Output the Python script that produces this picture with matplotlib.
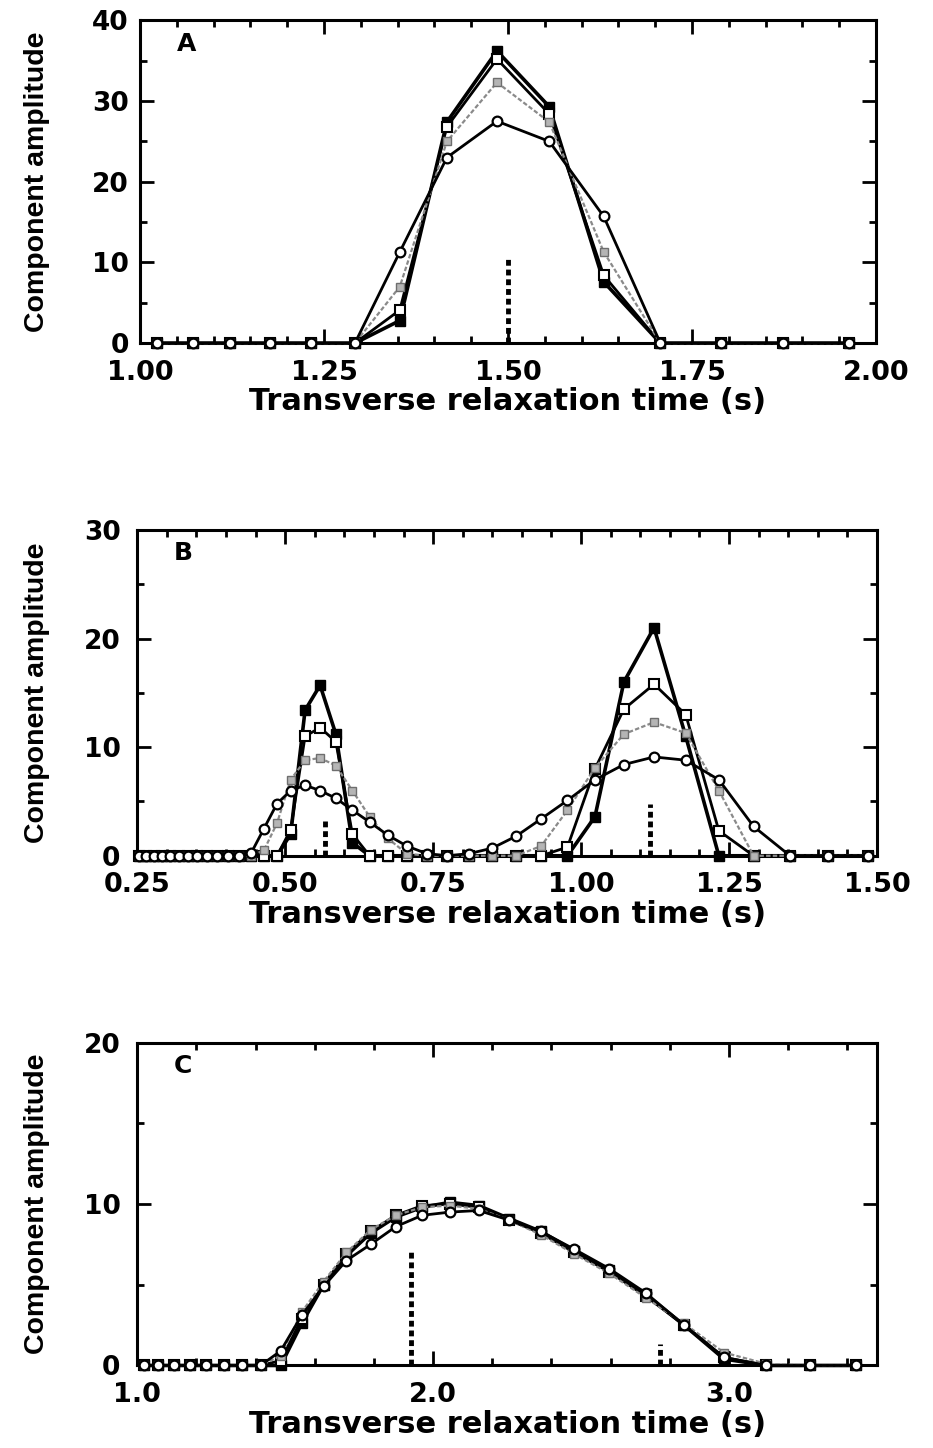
import matplotlib
matplotlib.use("Agg")
import matplotlib.pyplot as plt
from matplotlib.ticker import MultipleLocator

plt.rcParams['font.family'] = ['DejaVu Sans']
plt.rcParams['font.weight'] = 'bold'

# --- DATA ---
# relaxation time grid (s) for each panel
t_a = [1.023, 1.072, 1.123, 1.177, 1.233, 1.292, 1.353, 1.417, 1.485, 1.556,
       1.630, 1.707, 1.789, 1.874, 1.963]
t_b = [0.2535, 0.2656, 0.2783, 0.2915, 0.3054, 0.3199, 0.3352, 0.3511, 0.3678, 0.3854,
       0.4037, 0.4229, 0.4431, 0.4642, 0.4863, 0.5094, 0.5337, 0.5591, 0.5857, 0.6136,
       0.6428, 0.6734, 0.7055, 0.7391, 0.7743, 0.8111, 0.8498, 0.8902, 0.9326, 0.9770,
       1.0235, 1.0723, 1.1233, 1.1768, 1.2328, 1.2915, 1.3530, 1.4175, 1.4850]
t_c = [1.023, 1.072, 1.123, 1.177, 1.233, 1.292, 1.353, 1.417, 1.485, 1.556,
       1.630, 1.707, 1.789, 1.874, 1.963, 2.057, 2.154, 2.257, 2.364, 2.477,
       2.595, 2.718, 2.848, 2.983, 3.126, 3.274, 3.430]

# panel A
a_filled = [0, 0, 0, 0, 0, 0, 2.8, 27.4, 36.2, 29.3, 7.6, 0, 0, 0, 0]
a_open = [0, 0, 0, 0, 0, 0, 4.1, 26.8, 35.2, 28.4, 8.4, 0, 0, 0, 0]
a_hatch = [0, 0, 0, 0, 0, 0, 7.0, 25.0, 32.3, 27.4, 11.3, 0, 0, 0, 0]
a_circle = [0, 0, 0, 0, 0, 0, 11.3, 23.0, 27.5, 25.0, 15.7, 0, 0, 0, 0]

# panel B
b_filled = [0, 0, 0, 0, 0, 0, 0, 0, 0, 0,
            0, 0, 0, 0, 0, 2.0, 13.4, 15.7, 11.2, 1.2,
            0, 0, 0, 0, 0, 0, 0, 0, 0, 0,
            3.6, 16.0, 21.0, 11.0, 0, 0, 0, 0, 0]
b_open = [0, 0, 0, 0, 0, 0, 0, 0, 0, 0,
          0, 0, 0, 0, 0, 2.4, 11.0, 11.8, 10.5, 2.0,
          0, 0, 0, 0, 0, 0, 0, 0, 0, 0.8,
          8.0, 13.5, 15.8, 13.0, 2.3, 0, 0, 0, 0]
b_hatch = [0, 0, 0, 0, 0, 0, 0, 0, 0, 0,
           0, 0, 0, 0.5, 3.0, 7.0, 8.8, 9.0, 8.3, 6.0,
           3.6, 1.6, 0.2, 0, 0, 0, 0, 0, 0.9, 4.2,
           8.1, 11.2, 12.3, 11.3, 6.0, 0, 0, 0, 0]
b_circle = [0, 0, 0, 0, 0, 0, 0, 0, 0, 0,
            0, 0, 0.3, 2.5, 4.8, 6.0, 6.5, 6.0, 5.3, 4.2,
            3.1, 1.9, 0.9, 0.2, 0, 0.2, 0.7, 1.8, 3.4, 5.1,
            7.0, 8.4, 9.1, 8.8, 7.0, 2.7, 0, 0, 0]

# panel C
c_filled = [0, 0, 0, 0, 0, 0, 0, 0, 0, 2.6,
            5.0, 6.8, 8.2, 9.2, 9.8, 10.1, 9.9, 9.1, 8.3, 7.1,
            5.9, 4.4, 2.5, 0.4, 0, 0, 0]
c_open = [0, 0, 0, 0, 0, 0, 0, 0, 0.3, 2.9,
          5.0, 6.9, 8.3, 9.3, 9.9, 10.0, 9.8, 9.0, 8.2, 7.0,
          5.8, 4.3, 2.5, 0.5, 0, 0, 0]
c_hatch = [0, 0, 0, 0, 0, 0, 0, 0, 0.6, 3.3,
           5.2, 7.0, 8.4, 9.3, 9.8, 9.9, 9.7, 9.0, 8.1, 6.9,
           5.7, 4.2, 2.6, 0.8, 0.1, 0, 0]
c_circle = [0, 0, 0, 0, 0, 0, 0, 0, 0.9, 3.1,
            4.9, 6.5, 7.5, 8.6, 9.3, 9.5, 9.6, 9.0, 8.3, 7.2,
            6.0, 4.5, 2.5, 0.5, 0, 0, 0]

# true relaxation times (dashed markers) and their heights
true_a_t = [1.50]
true_a_h = [10.7]
true_b_t = [0.567, 1.117]
true_b_h = [3.5, 4.8]
true_c_t = [1.925, 2.767]
true_c_h = [7.0, 1.3]


def draw_panel(ax, t, filled, opened, hatch, circle, true_t, true_h):
    ax.plot(t, filled, color='black', lw=2.6, marker='s', ms=7,
            mfc='black', mec='black', clip_on=False, zorder=3)
    ax.plot(t, opened, color='black', lw=2.0, marker='s', ms=6.5,
            mfc='white', mec='black', mew=1.5, clip_on=False, zorder=4)
    ax.plot(t, hatch, color='#8a8a8a', lw=1.6, ls=(0, (2, 1)), marker='s', ms=6,
            mfc='#b5b5b5', mec='#6e6e6e', mew=1.0, clip_on=False, zorder=5)
    ax.plot(t, circle, color='black', lw=2.0, marker='o', ms=7,
            mfc='white', mec='black', mew=1.6, clip_on=False, zorder=6)
    for x, h in zip(true_t, true_h):
        ax.plot([x, x], [0, h], color='black', lw=3.5, ls=(0, (1.2, 0.8)), zorder=2)


def style_axes(ax, xlim, ylim, xmaj, xmin, xfmt, letter, ypad):
    ax.set_xlim(*xlim)
    ax.set_ylim(*ylim)
    ax.xaxis.set_major_locator(MultipleLocator(xmaj))
    ax.xaxis.set_minor_locator(MultipleLocator(xmin))
    ax.yaxis.set_major_locator(MultipleLocator(10))
    ax.yaxis.set_minor_locator(MultipleLocator(5))
    ax.xaxis.set_major_formatter(xfmt)
    ax.tick_params(which='both', direction='in', top=True, right=True, width=2)
    ax.tick_params(which='major', length=10)
    ax.tick_params(which='minor', length=5)
    ax.tick_params(axis='x', labelsize=19.5, pad=12)
    ax.tick_params(axis='y', labelsize=19, pad=ypad)
    for s in ax.spines.values():
        s.set_linewidth(2.2)
    ax.set_xlabel('Transverse relaxation time (s)', fontsize=22,
                  fontweight='bold', labelpad=1)
    ax.text(0.05, 0.965, letter, transform=ax.transAxes, fontsize=18,
            fontweight='bold', va='top', ha='left')


fig = plt.figure(figsize=(9.33, 14.48), dpi=100)

ax_a = fig.add_axes([0.150, 0.763, 0.789, 0.223])
ax_b = fig.add_axes([0.147, 0.409, 0.793, 0.225])
ax_c = fig.add_axes([0.147, 0.057, 0.793, 0.223])

draw_panel(ax_a, t_a, a_filled, a_open, a_hatch, a_circle, true_a_t, true_a_h)
draw_panel(ax_b, t_b, b_filled, b_open, b_hatch, b_circle, true_b_t, true_b_h)
draw_panel(ax_c, t_c, c_filled, c_open, c_hatch, c_circle, true_c_t, true_c_h)

style_axes(ax_a, (1.0, 2.0), (0, 40), 0.25, 0.05, '{x:.2f}', 'A', 8)
style_axes(ax_b, (0.25, 1.5), (0, 30), 0.25, 0.05, '{x:.2f}', 'B', 12)
style_axes(ax_c, (1.0, 3.5), (0, 20), 1.0, 0.2, '{x:.1f}', 'C', 12)

# C only labels 1.0, 2.0, 3.0
ax_c.xaxis.set_major_locator(plt.FixedLocator([1.0, 2.0, 3.0]))

for ax in (ax_a, ax_b, ax_c):
    pos = ax.get_position()
    fig.text(0.040, pos.y0 + pos.height / 2, 'Component amplitude', rotation=90,
             ha='center', va='center', fontsize=20.5, fontweight='bold',
             family=['Liberation Sans', 'DejaVu Sans'])

fig.savefig('out.png', dpi=100)
